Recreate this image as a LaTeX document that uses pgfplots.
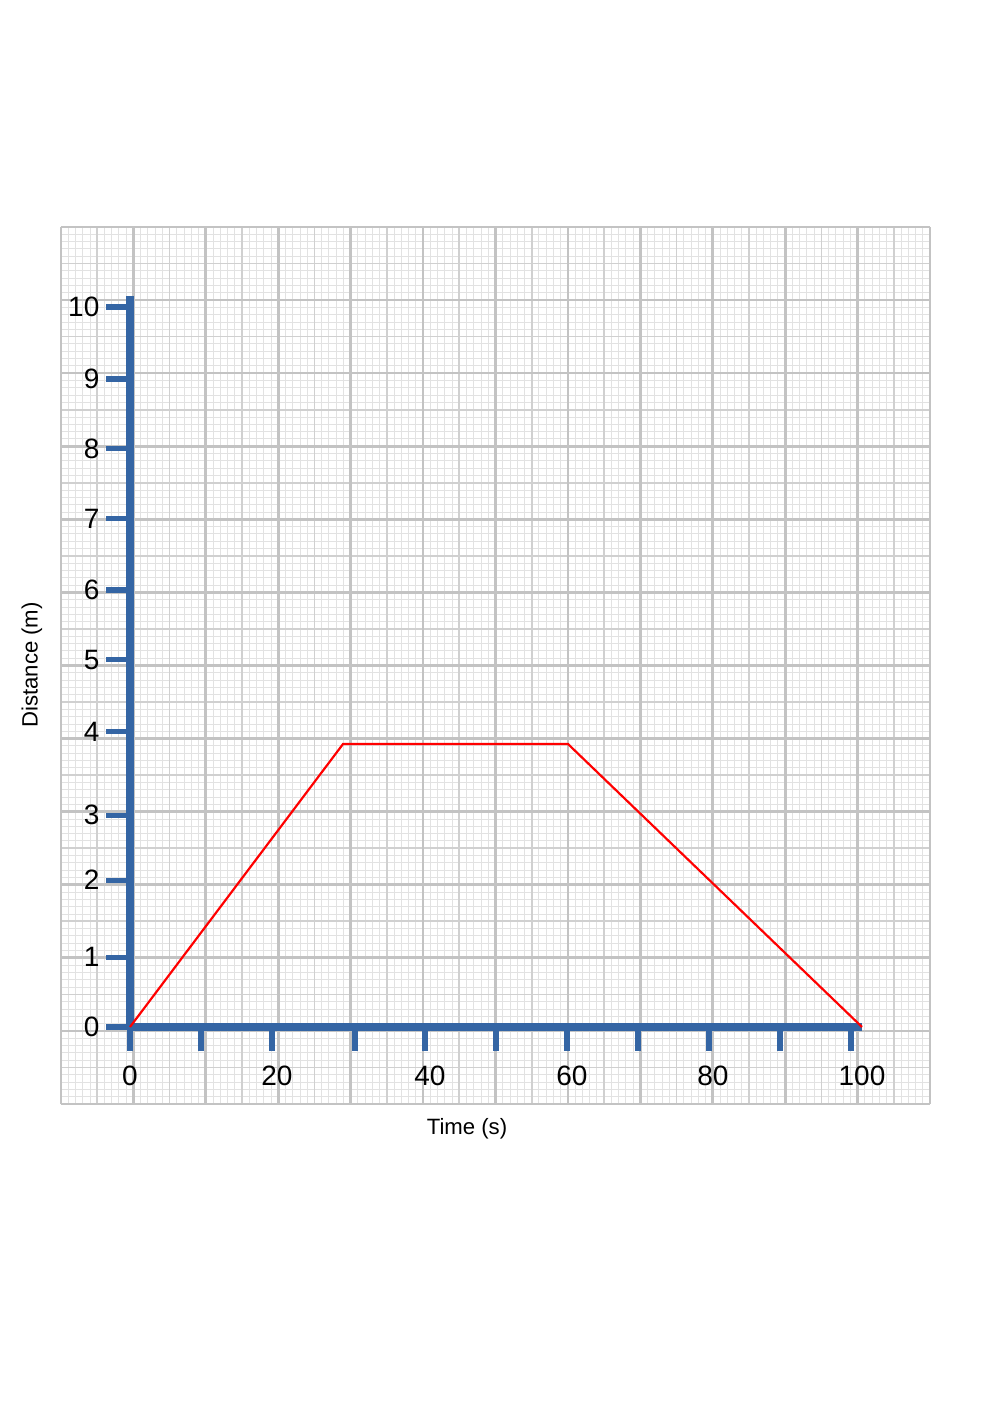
\documentclass[border=0pt]{standalone}
\usepackage{pgfplots}
\pgfplotsset{compat=1.18}
\usepackage{fontspec}
\setmainfont{Liberation Sans}
\definecolor{axisblue}{RGB}{52,101,164}
\definecolor{gmaj}{RGB}{195,195,195}
\definecolor{gmed}{RGB}{208,208,208}
\definecolor{gmin}{RGB}{226,226,226}
\pgfplotsset{paper/.style={
 at={(36.6pt,179.4pt)}, anchor=south west,
 scale only axis, width=521.4pt, height=526.2pt,
 xmin=0,xmax=12,ymin=0,ymax=12,
 xticklabels={}, yticklabels={},
 major tick length=0pt, minor tick length=0pt,
 axis line style={draw=none}, tick style={draw=none}}}
\begin{document}
\begin{tikzpicture}
\useasboundingbox[fill=white] (0,0) rectangle (595.2pt,841.8pt);
% graph paper: fine lines
\begin{axis}[paper, xtick={0,...,12}, ytick={0,...,12}, minor tick num=9,
 grid=minor, minor grid style={line width=0.55pt, color=gmin}]
\end{axis}
% graph paper: half lines
\begin{axis}[paper, xtick={0.5,1.5,...,11.5}, ytick={0.5,1.5,...,11.5},
 grid=major, major grid style={line width=1.0pt, color=gmed}]
\end{axis}
% graph paper: main lines
\begin{axis}[paper, xtick={0,...,12}, ytick={0,...,12},
 grid=major, major grid style={line width=1.6pt, color=gmaj}]
\end{axis}
% chart
\begin{axis}[
 at={(78pt,225.6pt)}, anchor=south west, scale only axis,
 width=439.2pt, height=438.48pt,
 xmin=0,xmax=100,ymin=0,ymax=10.15,
 axis lines=left,
 axis line style={-, line width=4.6pt, color=axisblue},
 every outer x axis line/.append style={-},
 every outer y axis line/.append style={-},
 every tick/.append style={line width=3.1pt, color=axisblue},
 every major tick/.append style={line width=3.1pt, color=axisblue},
 major tick length=14.2pt,
 tick align=outside,
 xtick={0,9.70,19.40,30.74,40.30,50,59.70,69.40,79.10,88.80,98.50},
 xticklabels={},
 extra x ticks={0,20.08,40.98,60.38,79.64,100},
 extra x tick labels={0,20,40,60,80,100},
 extra x tick style={major tick length=0pt, every major tick/.append style={draw=none}},
 xticklabel style={anchor=center, yshift=-29.4pt},
 ytick={0,0.97,2.04,2.94,4.10,5.10,6.07,7.06,8.03,9.0,10.0},
 yticklabels={0,1,2,3,4,5,6,7,8,9,10},
 yticklabel style={anchor=east, inner sep=0pt, xshift=-4pt},
 ticklabel style={font=\fontsize{16.8}{20}\selectfont},
 /pgf/number format/assume math mode=true,
 clip=false,
 xlabel={Time (s)}, ylabel={Distance (m)},
 xlabel style={at={(axis cs:46.04,-1.417)}, anchor=center, font=\fontsize{13.3}{16}\selectfont},
 ylabel style={at={(axis cs:-13.39,5.028)}, anchor=center, font=\fontsize{13.3}{16}\selectfont},
]
\addplot[color=red, line width=1.3pt] coordinates {(0,0) (29.1,3.93) (59.84,3.93) (100,0)};
\end{axis}
\end{tikzpicture}
\end{document}
